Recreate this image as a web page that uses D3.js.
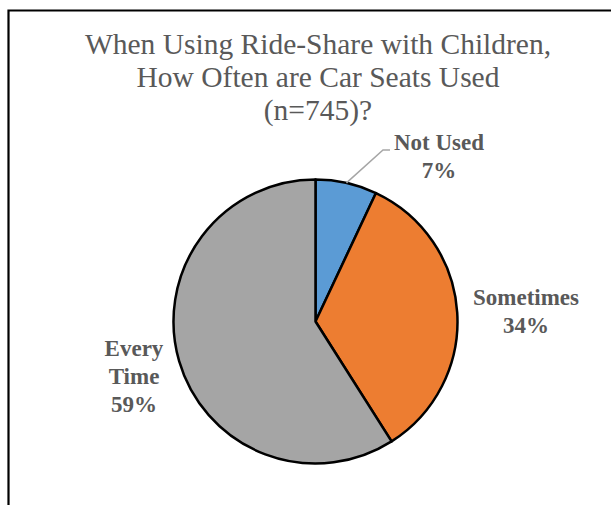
<!DOCTYPE html>
<html><head><meta charset="utf-8">
<script src="https://cdn.jsdelivr.net/npm/d3@7"></script>
<style>html,body{margin:0;padding:0;background:#fff;}</style>
</head><body>
<script>
const categories = ["Not Used", "Sometimes", "Every Time"];
const values = [7, 34, 59];
const labelLines = [["Not Used", "7%"], ["Sometimes", "34%"], ["Every", "Time", "59%"]];
const colors = ["#5B9BD5", "#ED7D31", "#A5A5A5"];
const titleLines = ["When Using Ride-Share with Children,", "How Often are Car Seats Used", "(n=745)?"];

const W = 611, H = 505;
const svg = d3.select("body").append("svg").attr("width", W).attr("height", H);

// frame
svg.append("path").attr("d", "M8.5,505 L8.5,10.5 L611,10.5")
  .attr("fill", "none").attr("stroke", "#000").attr("stroke-width", 2.2);

// title
svg.append("text").attr("x", 318).attr("y", 54)
  .attr("text-anchor", "middle").attr("font-family", "'Liberation Serif','Times New Roman',serif")
  .attr("font-size", 29.5).attr("fill", "#595959")
  .selectAll("tspan").data(titleLines).join("tspan")
  .attr("x", 318).attr("dy", (d, i) => i === 0 ? 0 : 33).text(d => d);

const cx = 315.5, cy = 321.5, r = 142;
const pie = d3.pie().sort(null).value(d => d)(values);
const arc = d3.arc().innerRadius(0).outerRadius(r);
const g = svg.append("g").attr("transform", `translate(${cx},${cy})`);
g.selectAll("path").data(pie).join("path")
  .attr("d", arc).attr("fill", (d, i) => colors[i])
  .attr("stroke", "#000").attr("stroke-width", 2.5).attr("stroke-linejoin", "round");

// leader line for first slice
const a0 = (pie[0].startAngle + pie[0].endAngle) / 2;
const p0 = [Math.sin(a0) * r, -Math.cos(a0) * r];
g.append("polyline")
  .attr("points", [p0, [383 - cx, 150 - cy], [390 - cx, 150 - cy]].map(p => p.join(",")).join(" "))
  .attr("fill", "none").attr("stroke", "#A6A6A6").attr("stroke-width", 1.5);

const labelPos = [[439, 150], [526, 305], [134, 356]];
labelLines.forEach((lines, i) => {
  svg.append("text").attr("text-anchor", "middle")
    .attr("font-family", "'Liberation Serif','Times New Roman',serif")
    .attr("font-weight", "bold").attr("font-size", 23).attr("fill", "#595959")
    .selectAll("tspan").data(lines).join("tspan")
    .attr("x", labelPos[i][0]).attr("y", (d, j) => labelPos[i][1] + j * 27.8).text(d => d);
});
</script>
</body></html>
